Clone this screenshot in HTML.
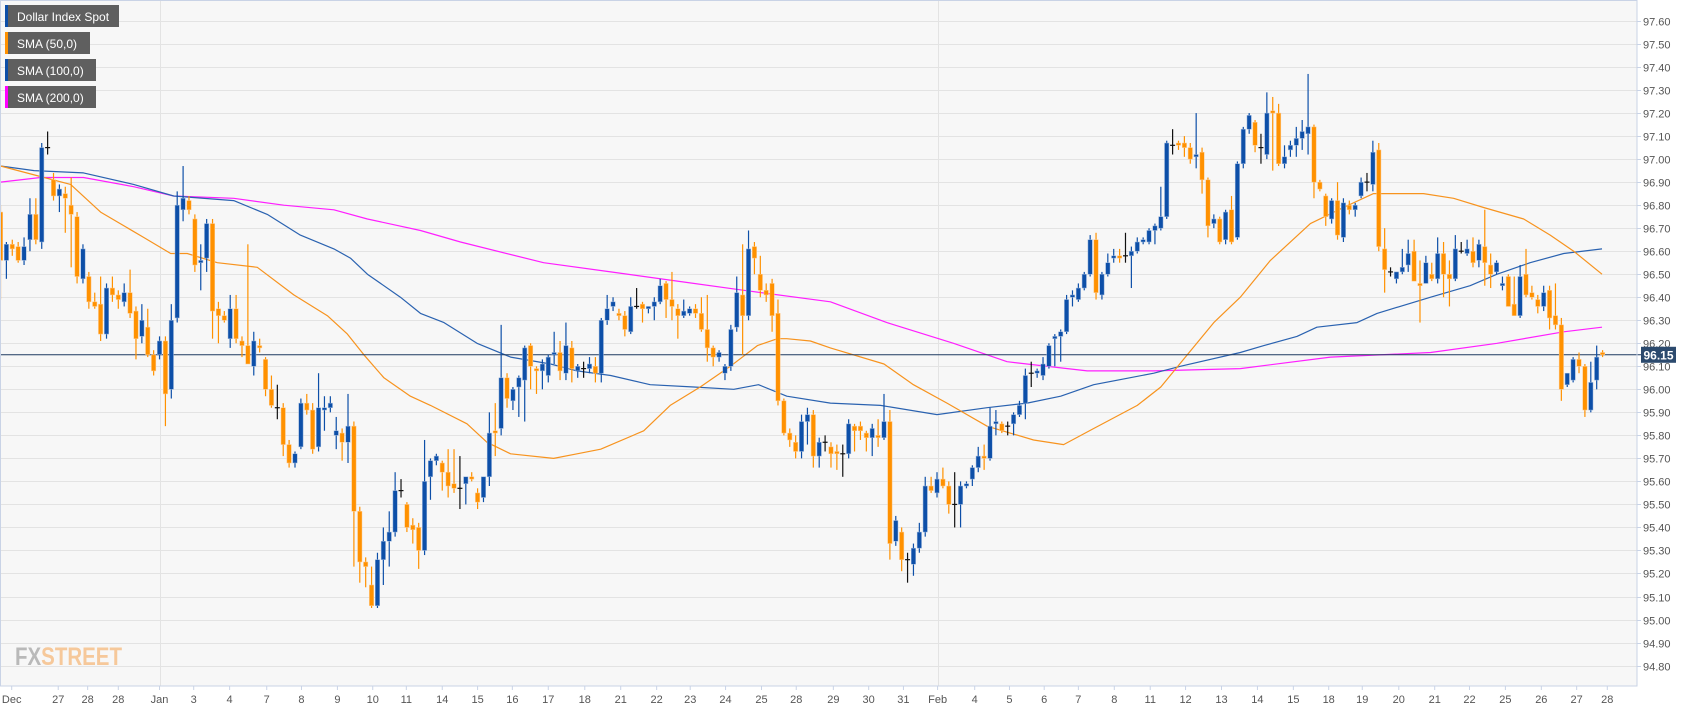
<!DOCTYPE html>
<html><head><meta charset="utf-8"><style>
html,body{margin:0;padding:0;background:#fff;width:1707px;height:712px;overflow:hidden;font-family:"Liberation Sans",Arial,sans-serif}
svg text{font-family:"Liberation Sans",Arial,sans-serif}
</style></head><body>
<svg id="chart" width="1707" height="712" xmlns="http://www.w3.org/2000/svg">
<rect x="0" y="0" width="1637" height="686" fill="#f7f7f7"/>
<g id="grid"></g>
<g id="smas"></g>
<g id="candles"></g>
<g id="axes"></g>
<g>
 <g><rect x="5" y="5" width="114" height="22" fill="#5f5f5f"/><rect x="5" y="5" width="3" height="22" fill="#0d4fa8"/><text x="17" y="21" fill="#fff" font-size="12">Dollar Index Spot</text></g>
 <g><rect x="5" y="32" width="85" height="22" fill="#5f5f5f"/><rect x="5" y="32" width="3" height="22" fill="#ff9100"/><text x="17" y="48" fill="#fff" font-size="12">SMA (50,0)</text></g>
 <g><rect x="5" y="59" width="91" height="22" fill="#5f5f5f"/><rect x="5" y="59" width="3" height="22" fill="#0d4fa8"/><text x="17" y="75" fill="#fff" font-size="12">SMA (100,0)</text></g>
 <g><rect x="5" y="86" width="91" height="22" fill="#5f5f5f"/><rect x="5" y="86" width="3" height="22" fill="#ff00ff"/><text x="17" y="102" fill="#fff" font-size="12">SMA (200,0)</text></g>
</g>
<text x="15" y="665" font-size="25" font-weight="bold" textLength="107" lengthAdjust="spacingAndGlyphs"><tspan fill="#b9b9b9">FX</tspan><tspan fill="#f6c89a">STREET</tspan></text>
</svg>
<script>
const yTicks=[97.60,97.50,97.40,97.30,97.20,97.10,97.00,96.90,96.80,96.70,96.60,96.50,96.40,96.30,96.20,96.10,96.00,95.90,95.80,95.70,95.60,95.50,95.40,95.30,95.20,95.10,95.00,94.90,94.80];
const xLabels=["Dec","27","28","28","Jan","3","4","7","8","9","10","11","14","15","16","17","18","21","22","23","24","25","28","29","30","31","Feb","4","5","6","7","8","11","12","13","14","15","18","19","20","21","22","25","26","27","28"];
const xLabelIdx=[1.9,9.8,14.8,20,27,32.8,38.9,45.2,51.1,57.2,63.2,68.9,75,81,86.9,93,99.2,105.3,111.4,117.1,123.1,129.2,135.1,141.4,147.4,153.3,159.1,165.4,171.3,177.2,183,189.1,195.2,201.2,207.3,213.4,219.5,225.5,231.2,237.4,243.5,249.4,255.5,261.6,267.6,272.8];
const monthIdx=[27,159.1];
const ohlc=[
[96.77,96.80,96.39,96.56],[96.56,96.64,96.48,96.63],[96.63,96.65,96.58,96.61],[96.62,96.64,96.55,96.56],[96.56,96.66,96.54,96.62],[96.65,96.83,96.60,96.76],[96.76,96.83,96.63,96.65],[96.64,97.07,96.61,97.05],[97.05,97.12,97.02,97.05],[96.91,96.94,96.82,96.84],
[96.84,96.89,96.77,96.87],[96.85,96.88,96.68,96.83],[96.80,96.92,96.53,96.76],[96.75,96.77,96.46,96.49],[96.48,96.63,96.46,96.61],[96.49,96.51,96.35,96.38],[96.38,96.42,96.35,96.36],[96.37,96.49,96.21,96.24],[96.24,96.46,96.22,96.44],[96.44,96.49,96.38,96.41],
[96.41,96.43,96.35,96.39],[96.38,96.46,96.36,96.42],[96.42,96.52,96.31,96.33],[96.34,96.36,96.13,96.22],[96.23,96.37,96.20,96.30],[96.27,96.35,96.14,96.15],[96.15,96.17,96.06,96.08],[96.15,96.23,96.13,96.21],[96.21,96.23,95.84,95.98],[96.00,96.37,95.96,96.30],
[96.31,96.86,96.29,96.80],[96.78,96.97,96.73,96.83],[96.82,96.84,96.76,96.78],[96.74,96.76,96.51,96.54],[96.55,96.63,96.43,96.56],[96.57,96.74,96.51,96.72],[96.72,96.74,96.22,96.34],[96.35,96.38,96.20,96.32],[96.32,96.34,96.29,96.30],[96.22,96.41,96.18,96.35],
[96.35,96.41,96.20,96.22],[96.21,96.23,96.14,96.19],[96.19,96.63,96.16,96.11],[96.10,96.25,96.06,96.21],[96.19,96.22,96.16,96.18],[96.13,96.14,95.97,96.00],[96.00,96.06,95.92,95.93],[95.92,96.02,95.87,95.92],[95.92,95.94,95.71,95.76],[95.76,95.78,95.66,95.68],
[95.68,95.73,95.66,95.72],[95.75,95.96,95.74,95.94],[95.94,95.98,95.89,95.91],[95.91,95.94,95.72,95.74],[95.75,96.07,95.73,95.92],[95.91,95.97,95.82,95.92],[95.92,95.97,95.90,95.94],[95.80,95.88,95.74,95.82],[95.81,95.83,95.69,95.77],[95.77,95.98,95.68,95.84],
[95.84,95.86,95.23,95.47],[95.47,95.49,95.16,95.25],[95.25,95.27,95.14,95.23],[95.15,95.23,95.05,95.06],[95.06,95.29,95.05,95.26],[95.26,95.40,95.15,95.34],[95.34,95.47,95.23,95.38],[95.38,95.64,95.36,95.56],[95.56,95.61,95.53,95.56],[95.50,95.51,95.38,95.40],
[95.41,95.44,95.33,95.39],[95.40,95.42,95.22,95.30],[95.30,95.78,95.28,95.60],[95.62,95.70,95.52,95.69],[95.69,95.72,95.67,95.71],[95.68,95.69,95.56,95.64],[95.64,95.74,95.53,95.58],[95.59,95.74,95.55,95.57],[95.57,95.71,95.48,95.57],[95.59,95.61,95.50,95.62],
[95.62,95.64,95.60,95.61],[95.55,95.57,95.48,95.51],[95.53,95.62,95.51,95.62],[95.62,95.90,95.58,95.81],[95.82,95.94,95.71,95.81],[95.83,96.28,95.80,96.05],[96.05,96.07,95.92,95.96],[95.95,96.01,95.91,96.00],[96.01,96.06,95.88,96.05],[96.04,96.19,95.86,96.18],
[96.19,96.20,96.00,96.10],[96.09,96.10,95.98,96.08],[96.08,96.13,96.00,96.11],[96.06,96.15,96.03,96.14],[96.15,96.25,96.11,96.16],[96.16,96.21,96.04,96.08],[96.07,96.29,96.04,96.19],[96.18,96.21,96.03,96.09],[96.08,96.11,96.05,96.10],[96.09,96.12,96.05,96.09],
[96.09,96.14,96.07,96.11],[96.10,96.14,96.03,96.07],[96.07,96.31,96.03,96.30],[96.30,96.41,96.28,96.35],[96.36,96.40,96.34,96.38],[96.33,96.35,96.30,96.32],[96.32,96.34,96.23,96.26],[96.25,96.40,96.24,96.36],[96.36,96.44,96.35,96.36],[96.37,96.38,96.29,96.35],
[96.35,96.36,96.33,96.36],[96.36,96.40,96.30,96.38],[96.38,96.48,96.37,96.45],[96.46,96.47,96.31,96.39],[96.39,96.51,96.30,96.36],[96.35,96.37,96.22,96.32],[96.32,96.39,96.31,96.34],[96.33,96.36,96.32,96.35],[96.35,96.37,96.31,96.33],[96.33,96.40,96.25,96.26],
[96.26,96.41,96.12,96.18],[96.18,96.19,96.10,96.14],[96.14,96.17,96.12,96.16],[96.07,96.11,96.04,96.10],[96.10,96.28,96.08,96.26],[96.27,96.49,96.25,96.42],[96.41,96.63,96.15,96.32],[96.32,96.69,96.30,96.61],[96.62,96.64,96.50,96.57],[96.50,96.58,96.40,96.43],
[96.43,96.46,96.38,96.41],[96.46,96.48,96.25,96.32],[96.33,96.39,95.93,95.95],[95.95,95.96,95.80,95.81],[95.81,95.83,95.75,95.78],[95.77,95.80,95.70,95.73],[95.73,95.89,95.70,95.86],[95.86,95.92,95.76,95.89],[95.89,95.91,95.66,95.71],[95.71,95.79,95.66,95.77],
[95.77,95.80,95.73,95.77],[95.75,95.77,95.66,95.72],[95.73,95.76,95.65,95.72],[95.72,95.76,95.62,95.72],[95.72,95.87,95.70,95.85],[95.84,95.85,95.73,95.82],[95.84,95.86,95.78,95.82],[95.81,95.82,95.73,95.79],[95.79,95.85,95.71,95.83],[95.80,95.87,95.75,95.79],
[95.79,95.98,95.78,95.86],[95.86,95.91,95.26,95.33],[95.34,95.45,95.32,95.43],[95.38,95.40,95.21,95.26],[95.26,95.29,95.16,95.26],[95.24,95.33,95.19,95.31],[95.31,95.42,95.29,95.38],[95.38,95.62,95.36,95.58],[95.58,95.62,95.55,95.56],[95.55,95.64,95.53,95.61],
[95.61,95.66,95.57,95.58],[95.58,95.60,95.46,95.50],[95.50,95.64,95.40,95.50],[95.50,95.60,95.40,95.58],[95.58,95.60,95.57,95.59],[95.61,95.67,95.58,95.66],[95.66,95.75,95.64,95.71],[95.71,95.76,95.65,95.70],[95.70,95.92,95.69,95.84],[95.85,95.91,95.80,95.86],
[95.85,95.86,95.81,95.82],[95.84,95.86,95.80,95.84],[95.85,95.90,95.80,95.89],[95.89,95.95,95.88,95.93],[95.94,96.09,95.87,96.06],[96.07,96.12,96.01,96.07],[96.07,96.09,96.05,96.08],[96.06,96.14,96.04,96.11],[96.10,96.20,96.09,96.19],[96.22,96.24,96.10,96.23],
[96.23,96.26,96.12,96.25],[96.25,96.41,96.24,96.39],[96.40,96.43,96.36,96.41],[96.39,96.46,96.38,96.44],[96.44,96.51,96.43,96.50],[96.50,96.67,96.49,96.65],[96.65,96.68,96.39,96.42],[96.41,96.51,96.39,96.50],[96.50,96.59,96.49,96.55],[96.57,96.61,96.55,96.58],
[96.58,96.61,96.55,96.57],[96.58,96.68,96.55,96.58],[96.58,96.62,96.44,96.60],[96.60,96.66,96.59,96.64],[96.64,96.66,96.63,96.65],[96.64,96.70,96.63,96.69],[96.69,96.72,96.63,96.71],[96.70,96.88,96.69,96.75],[96.75,97.08,96.74,97.07],[97.06,97.13,97.02,97.06],
[97.07,97.08,97.04,97.06],[97.07,97.10,97.01,97.05],[97.05,97.07,96.98,97.00],[97.01,97.20,96.96,97.02],[97.03,97.05,96.85,96.91],[96.91,96.92,96.66,96.71],[96.72,96.76,96.70,96.74],[96.74,96.75,96.63,96.64],[96.65,96.78,96.63,96.77],[96.78,96.84,96.63,96.64],
[96.66,96.99,96.65,96.98],[96.98,97.14,96.96,97.13],[97.13,97.20,97.11,97.19],[97.16,97.17,97.03,97.06],[97.05,97.11,96.98,97.05],[97.02,97.29,97.00,97.20],[97.21,97.27,96.95,97.20],[97.20,97.24,96.97,96.98],[96.98,97.06,96.96,97.01],[97.04,97.08,97.01,97.06],
[97.06,97.14,97.01,97.09],[97.09,97.17,97.04,97.12],[97.11,97.37,97.02,97.14],[97.14,97.15,96.83,96.90],[96.90,96.91,96.86,96.87],[96.84,96.85,96.71,96.75],[96.74,96.83,96.72,96.82],[96.82,96.90,96.65,96.67],[96.66,96.83,96.64,96.81],[96.80,96.82,96.76,96.78],
[96.78,96.81,96.75,96.80],[96.84,96.92,96.83,96.90],[96.90,96.94,96.86,96.90],[96.89,97.08,96.86,97.03],[97.04,97.07,96.60,96.62],[96.61,96.70,96.42,96.52],[96.51,96.53,96.49,96.51],[96.48,96.50,96.46,96.51],[96.51,96.61,96.50,96.53],[96.54,96.65,96.51,96.59],
[96.60,96.65,96.47,96.47],[96.46,96.56,96.29,96.45],[96.46,96.58,96.46,96.55],[96.50,96.55,96.47,96.48],[96.48,96.66,96.46,96.59],[96.59,96.64,96.40,96.50],[96.50,96.56,96.36,96.48],[96.48,96.67,96.47,96.61],[96.60,96.64,96.59,96.60],[96.59,96.65,96.58,96.61],
[96.60,96.66,96.53,96.55],[96.56,96.65,96.53,96.63],[96.62,96.78,96.45,96.55],[96.54,96.59,96.44,96.50],[96.51,96.56,96.50,96.55],[96.45,96.49,96.43,96.46],[96.49,96.50,96.36,96.36],[96.37,96.49,96.32,96.32],[96.32,96.54,96.31,96.49],[96.50,96.61,96.40,96.41],
[96.42,96.45,96.39,96.40],[96.39,96.41,96.33,96.36],[96.36,96.45,96.34,96.42],[96.43,96.45,96.26,96.31],[96.32,96.46,96.26,96.28],[96.28,96.31,95.95,96.00],[96.02,96.07,96.01,96.07],[96.04,96.14,96.03,96.13],[96.13,96.16,96.07,96.10],[96.10,96.11,95.88,95.91],
[95.91,96.12,95.90,96.03],[96.04,96.19,96.00,96.14],[96.16,96.17,96.14,96.15]
];
const sma50Idx=[0,7.4,11.9,17,24.3,28.9,31.7,36.8,43.6,49.8,55.5,58.9,61.7,65.1,69.6,73,79.2,82.6,86.6,93.9,97.9,101.9,109.2,113.7,118.8,123.9,128.5,131.9,133.5,137.5,140.9,150,155,160.7,167.5,175.4,180.5,185.6,193,197,201.5,206,210.5,215.6,222.4,228,233.1,241.6,246.7,251.8,258.6,263.1,267.1,271.9];
const sma50Val=[96.97,96.92,96.89,96.77,96.66,96.59,96.59,96.55,96.53,96.41,96.32,96.24,96.15,96.05,95.97,95.93,95.85,95.77,95.72,95.70,95.72,95.74,95.82,95.93,96.01,96.10,96.19,96.22,96.22,96.21,96.18,96.11,96.02,95.94,95.84,95.78,95.76,95.83,95.93,96.01,96.15,96.29,96.40,96.56,96.72,96.79,96.85,96.85,96.83,96.79,96.74,96.67,96.60,96.50];
const sma100Idx=[0,5.7,14.1,22.6,29.4,39.6,45.3,50.9,56.6,59.4,62.3,67.9,71.3,75.3,80.9,86.6,93.4,97.9,103.6,110.3,117.7,124.5,128.7,133.5,140.9,149.4,159,167.5,174.3,180,185.6,195.8,200.3,210.5,214.5,220.1,223.5,230.3,233.7,242.8,249.5,254.1,259.7,265.4,271.9];
const sma100Val=[96.97,96.95,96.94,96.89,96.84,96.82,96.76,96.67,96.61,96.57,96.50,96.40,96.33,96.29,96.20,96.14,96.11,96.08,96.06,96.02,96.01,96.00,96.02,95.97,95.94,95.93,95.89,95.92,95.94,95.97,96.02,96.07,96.10,96.16,96.19,96.23,96.27,96.29,96.33,96.40,96.45,96.50,96.55,96.59,96.61];
const sma200Idx=[0,6.8,14.1,22.6,29.4,39.6,48.1,56.6,62.3,71.3,78.1,92.2,103.6,114.9,126.2,140.9,150.5,161.8,170.9,184.5,195.8,210.5,225.8,242.8,254.1,265.4,271.9];
const sma200Val=[96.90,96.92,96.92,96.88,96.84,96.83,96.80,96.78,96.74,96.69,96.64,96.55,96.51,96.47,96.43,96.38,96.29,96.20,96.12,96.08,96.08,96.09,96.14,96.16,96.20,96.25,96.27];
const lastPrice=96.15;

const NS='http://www.w3.org/2000/svg';
const PW=1637, PH=686;
function xs(i){return 0.5+i*5.89;}
function ys(p){return 21+(97.60-p)*230.2;}
function mk(tag,attrs,parent){const e=document.createElementNS(NS,tag);for(const k in attrs)e.setAttribute(k,attrs[k]);parent.appendChild(e);return e;}
const grid=document.getElementById('grid'),axes=document.getElementById('axes'),cg=document.getElementById('candles'),sg=document.getElementById('smas');
yTicks.forEach(t=>{
  const y=Math.round(ys(t))+0.5;
  const gl=mk('line',{x1:0,x2:PW,y1:y,y2:y,stroke:'#e3e3e3','stroke-width':1},grid);
  
  
  const tk=mk('line',{x1:PW,x2:PW+4,y1:y,y2:y,stroke:'#c9d3e6'},axes);
  
  
  const tx=mk('text',{x:PW+6,y:y+4,'font-size':11,fill:'#555'},axes);
  tx.textContent=t.toFixed(2);
  
  
});
monthIdx.forEach(m=>{
  const x=Math.round(xs(m))+0.5;
  const vl=mk('line',{x1:x,x2:x,y1:0,y2:PH,stroke:'#e3e3e3'},grid);
  
  
});
xLabels.forEach((l,k)=>{
  const x=xs(xLabelIdx[k]);
  const tk=mk('line',{x1:x,x2:x,y1:PH,y2:PH+4,stroke:'#c9d3e6'},axes);
  
  
  const tx=mk('text',{x:x,y:PH+17,'font-size':11,fill:'#555','text-anchor':'middle'},axes);
  tx.textContent=l;
  
  
});
const bd=mk('rect',{x:0.5,y:0.5,width:PW-0.5,height:PH-0.5,fill:'none',stroke:'#c9d3e6'},axes);


function smaLine(idx,val,color,name){
  const pts=idx.map((v,k)=>xs(v).toFixed(1)+','+ys(val[k]).toFixed(1)).join(' ');
  const pl=mk('polyline',{points:pts,fill:'none',stroke:color,'stroke-width':1.2,'stroke-linejoin':'round'},sg);
  
  
}
smaLine(sma200Idx,sma200Val,'#ff1fff','sma-200-line');
smaLine(sma100Idx,sma100Val,'#2a62b0','sma-100-line');
smaLine(sma50Idx,sma50Val,'#f7931e','sma-50-line');
const pl=mk('line',{x1:0,x2:PW+4,y1:ys(lastPrice),y2:ys(lastPrice),stroke:'#1f3a60','stroke-width':1},sg);


ohlc.forEach((c,i)=>{
  const [o,h,l,cl]=c;
  const col=cl>o?'#0d4fa8':(cl<o?'#ff9100':'#111');
  const x=xs(i);
  const g=mk('g',{},cg);
  
  
  mk('line',{x1:x,x2:x,y1:ys(h),y2:ys(l),stroke:col,'stroke-width':1.2},g);
  const top=ys(Math.max(o,cl)),bot=ys(Math.min(o,cl));
  if(cl===o){mk('line',{x1:x-2.5,x2:x+2.5,y1:top,y2:top,stroke:col,'stroke-width':1.2},g);}
  else mk('rect',{x:x-2.2,y:top,width:4.4,height:Math.max(1.2,bot-top),fill:col,stroke:cl>o?'#9bb6dc':'#ffc98a','stroke-width':0.5},g);
});
const py=ys(lastPrice);
const lb=mk('g',{},axes);


mk('rect',{x:PW+4,y:py-8,width:35,height:16,fill:'#2c4a6e'},lb);
const lt=mk('text',{x:PW+21.5,y:py+4.5,'font-size':12,'font-weight':'bold',fill:'#fff','text-anchor':'middle'},lb);
lt.textContent=lastPrice.toFixed(2);
</script>
</body></html>
